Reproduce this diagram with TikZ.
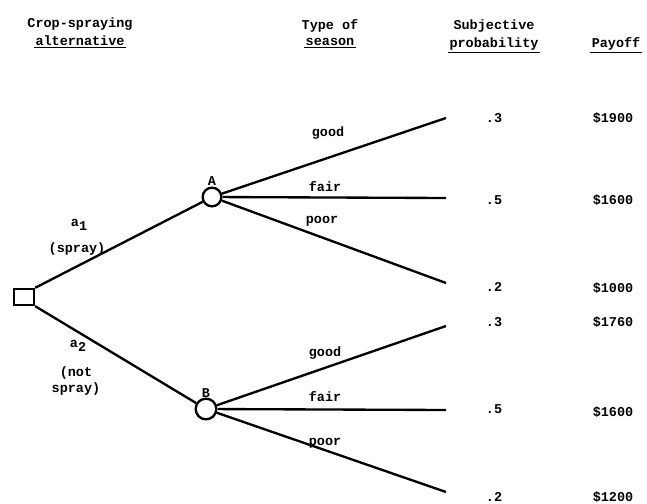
\documentclass[tikz,border=0pt]{standalone}
\usepackage{fontspec}
\setmonofont{Liberation Mono}
\usepackage{tikz}
\usetikzlibrary{positioning}
\tikzset{
  branch/.style={line width=2pt,black},
  choice/.style={draw,line width=2pt,minimum width=.6cm,minimum height=.48cm,inner sep=0pt},
  chance/.style={draw,circle,line width=2pt,minimum size=.56cm,inner sep=0pt},
  txt/.style={font=\ttfamily\bfseries\fontsize{11.5}{13}\selectfont,inner sep=1pt},
  head/.style={txt,align=center},
  uline/.style={txt,inner sep=1.5pt,path picture={\draw[line width=.8pt] (path picture bounding box.south west)--(path picture bounding box.south east);}},
}
\newcommand{\lowsub}[1]{\raisebox{-.6ex}{#1}}
\begin{document}
\begin{tikzpicture}[x=.03cm,y=-.03cm]
    \useasboundingbox (0,0) rectangle (647,503);
    % column heads
    \node[txt] (hdalt) at (80,24) {Crop-spraying};
    \node[uline,below=2pt of hdalt] (hdalt2) {alternative};
    \node[txt] (hdsea) at (330,26) {Type of};
    \node[uline,below=2pt of hdsea] (hdsea2) {season};
    \node[txt] (hdprob) at (494,26) {Subjective};
    \node[uline,below=2pt of hdprob] (hdprob2) {probability};
    \node[uline] (hdpay) at (616,44) {Payoff};
    % decision and chance points
    \node[choice] (root) at (24,297) {};
    \node[chance] (A) at (212,197) {};
    \node[chance,minimum size=.62cm] (B) at (206,409) {};
    \node[txt,above=0pt of A] (lA) {A};
    \node[txt,above=-1pt of B] (lB) {B};
    \draw[branch] (root.north east) -- (A);
    \draw[branch] (root.south east) -- (B);
    % end points
    \foreach \n/\y in {e1/118,e2/198,e3/283,e4/326,e5/410,e6/492}
      \coordinate (\n) at (446,\y);
    \foreach \n in {e1,e2,e3} \draw[branch] (A) -- (\n);
    \foreach \n in {e4,e5,e6} \draw[branch] (B) -- (\n);
    % action labels
    \node[txt] (a1) at (79,225) {a\lowsub{1}};
    \node[txt] (sp1) at (77,249) {(spray)};
    \node[txt] (a2) at (78,346) {a\lowsub{2}};
    \node[txt,align=center] (sp2) at (76,381) {(not\\spray)};
    % season labels
    \node[txt] (gA) at (328,133) {good};
    \node[txt] (fA) at (325,187) {fair};
    \node[txt] (pA) at (322,221) {poor};
    \node[txt] (gB) at (325,353) {good};
    \node[txt] (fB) at (325,397) {fair};
    \node[txt] (pB) at (325,443) {poor};
    % probabilities and payoffs
    \foreach \p/\v/\y in {1/.3/118,2/.5/200,3/.2/287,4/.3/322,5/.5/409,6/.2/497}
      \node[txt] (pr\p) at (494,\y) {\v};
    \foreach \p/\v/\y in {1/1900/118,2/1600/200,3/1000/288,4/1760/322,5/1600/412,6/1200/497}
      \node[txt] (pay\p) at (613,\y) {\$\v};
\end{tikzpicture}
\end{document}
